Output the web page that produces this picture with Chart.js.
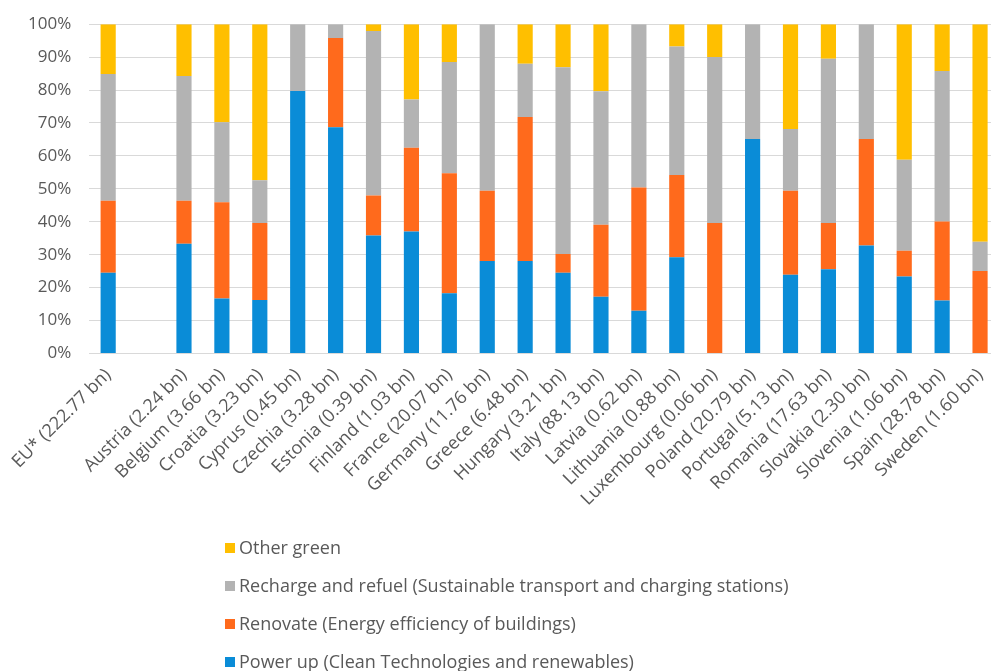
<!DOCTYPE html>
<html>

<head>
    <script src="https://cdn.jsdelivr.net/npm/chart.js@4.4.2/dist/chart.umd.min.js"></script>
    <style>
        body { margin: 0; background: #fff; overflow: hidden; }
        .legend { position: absolute; left: 225px; top: 534px; font-family: 'Open Sans', sans-serif; font-size: 18px; color: #595959; }
        .legend div { height: 38px; line-height: 26px; white-space: nowrap; }
        .legend span { display: inline-block; width: 10px; height: 10px; margin-right: 4px; vertical-align: 1px; }
    </style>
</head>

<body>
    <div class="chart-container" style="position:relative; height:675px; width:999px; margin-top:-4px">
        <canvas id="chart"></canvas>
    </div>
    <div class="legend" id="legend"></div>
</body>
<script>
    const labels = ['EU* (222.77 bn)', '', 'Austria (2.24 bn)', 'Belgium (3.66 bn)', 'Croatia (3.23 bn)', 'Cyprus (0.45 bn)',
        'Czechia (3.28 bn)', 'Estonia (0.39 bn)', 'Finland (1.03 bn)', 'France (20.07 bn)', 'Germany (11.76 bn)',
        'Greece (6.48 bn)', 'Hungary (3.21 bn)', 'Italy (88.13 bn)', 'Latvia (0.62 bn)', 'Lithuania (0.88 bn)',
        'Luxembourg (0.06 bn)', 'Poland (20.79 bn)', 'Portugal (5.13 bn)', 'Romania (17.63 bn)', 'Slovakia (2.30 bn)',
        'Slovenia (1.06 bn)', 'Spain (28.78 bn)', 'Sweden (1.60 bn)'];

    // shares in %
    const powerUp = [24.5, null, 33.3, 16.7, 16.2, 79.7, 68.7, 35.8, 37.0, 18.3, 28.1, 28.1, 24.5, 17.2, 13.0, 29.2, 0, 65.1, 23.9, 25.6, 32.8, 23.4, 16.1, 0];
    const renovate = [21.9, null, 13.1, 29.2, 23.4, 0, 27.1, 12.2, 25.5, 36.4, 21.3, 43.7, 5.7, 21.9, 37.4, 25.0, 39.6, 0, 25.5, 14.0, 32.3, 7.8, 24.0, 25.0];
    const recharge = [38.5, null, 37.9, 24.3, 13.0, 20.3, 4.2, 49.9, 14.6, 33.8, 50.6, 16.2, 56.7, 40.5, 49.6, 39.0, 50.4, 34.9, 18.8, 49.9, 34.9, 27.6, 45.7, 8.9];
    const otherGreen = [15.1, null, 15.7, 29.8, 47.4, 0, 0, 2.1, 22.9, 11.5, 0, 12.0, 13.1, 20.4, 0, 6.8, 10.0, 0, 31.8, 10.5, 0, 41.2, 14.2, 66.1];

    const seriesNames = ['Power up (Clean Technologies and renewables)', 'Renovate (Energy efficiency of buildings)',
        'Recharge and refuel (Sustainable transport and charging stations)', 'Other green'];
    const colors = ['#0a8cd7', '#ff6a1c', '#b3b3b3', '#ffbf00'];
    const yTicks = [0, 10, 20, 30, 40, 50, 60, 70, 80, 90, 100];

    const allSeries = [powerUp, renovate, recharge, otherGreen];
    const data = {
        labels: labels,
        datasets: allSeries.map((vals, i) => ({
            label: seriesNames[i],
            data: vals,
            backgroundColor: colors[i],
            barPercentage: 0.40,
            categoryPercentage: 1.0
        }))
    };

    const config = {
        type: 'bar',
        data: data,
        options: {
            responsive: true,
            maintainAspectRatio: false,
            animation: false,
            layout: {
                padding: { top: 8, right: 0, bottom: 158, left: 10 }
            },
            plugins: {
                legend: { display: false },
                tooltip: { enabled: false }
            },
            scales: {
                x: {
                    stacked: true,
                    grid: { display: false },
                    border: { color: '#d9d9d9' },
                    ticks: {
                        color: '#595959',
                        font: { family: 'Open Sans', size: 18 },
                        maxRotation: 45,
                        minRotation: 45,
                        autoSkip: false
                    }
                },
                y: {
                    stacked: true,
                    min: 0,
                    max: 100,
                    afterBuildTicks: (axis) => { axis.ticks = yTicks.map(v => ({ value: v })); },
                    grid: { color: '#d9d9d9', drawTicks: false },
                    border: { display: false },
                    ticks: {
                        color: '#595959',
                        padding: 18,
                        font: { family: 'Open Sans', size: 17 },
                        callback: (v) => v + '%'
                    }
                }
            }
        }
    };

    const chart = new Chart(document.getElementById('chart'), config);

    // legend listed top-down in reverse order, like the original
    const legend = document.getElementById('legend');
    for (let i = seriesNames.length - 1; i >= 0; i--) {
        const row = document.createElement('div');
        row.innerHTML = '<span style="background:' + colors[i] + '"></span>' + seriesNames[i];
        legend.appendChild(row);
    }
</script>

</html>
